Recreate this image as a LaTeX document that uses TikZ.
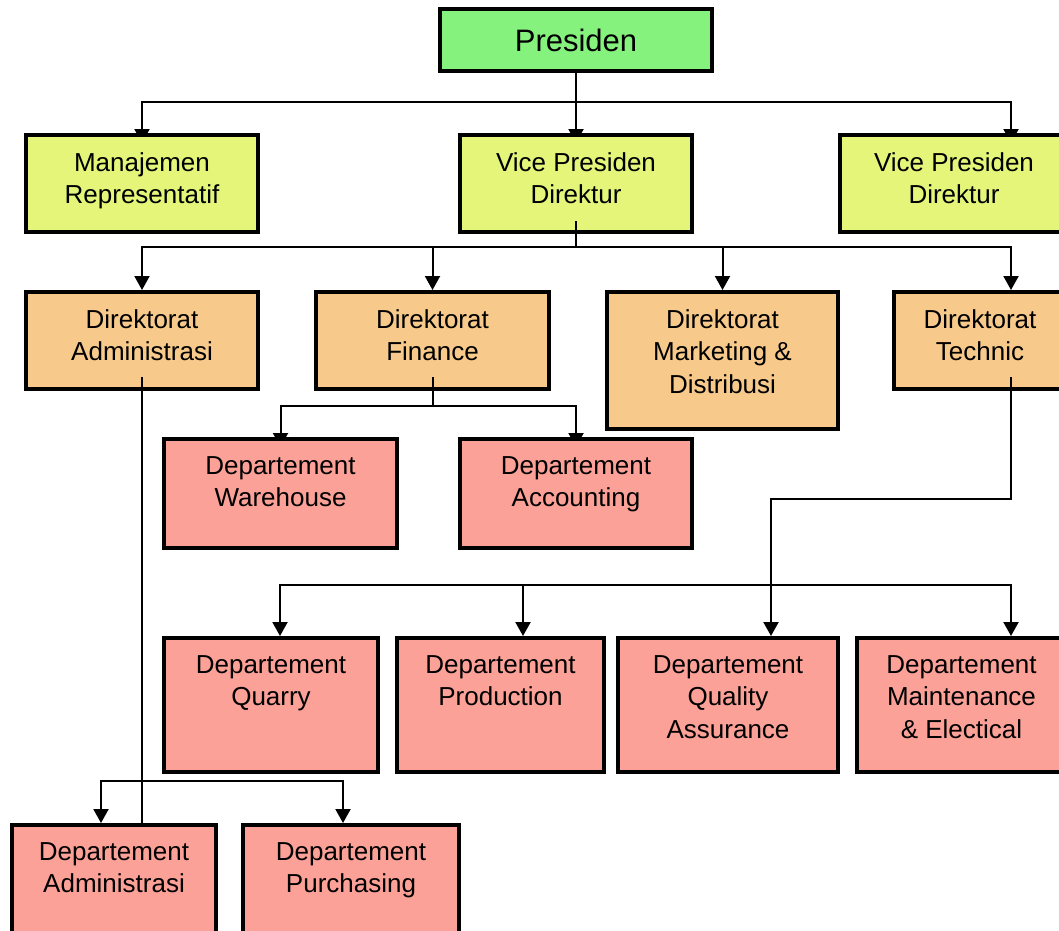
\documentclass[tikz,border=0pt]{standalone}
\usepackage{fontspec}
\setmainfont{Liberation Sans}
\usetikzlibrary{arrows.meta,backgrounds}
\definecolor{cgreen}{RGB}{134,242,126}
\definecolor{cyellow}{RGB}{228,245,122}
\definecolor{corange}{RGB}{247,202,139}
\definecolor{cpink}{RGB}{252,161,151}
\begin{document}
\begin{tikzpicture}[x=1pt,y=-1pt,
  box/.style={draw=black, line width=4pt, inner sep=0pt},
  txt/.style={font=\fontsize{26}{32.5}\selectfont, align=center, inner sep=0pt, anchor=north},
  conn/.style={line width=2pt},
  arr/.style={conn, -{Triangle[width=15pt,length=14pt]}}]
\clip (0,0) rectangle (1059,930);
% boxes
\node[box, fill=cgreen, minimum width=272pt, minimum height=62pt] (pres) at (576,40) {};
\node[font=\fontsize{31}{36}\selectfont, inner sep=0pt] (pres-t) at (pres.center) {Presiden};

\node[box, fill=cyellow, minimum width=232pt, minimum height=97pt] (man) at (142,183.5) {};
\node[box, fill=cyellow, minimum width=232pt, minimum height=97pt] (vp1) at (576,183.5) {};
\node[box, fill=cyellow, minimum width=228pt, minimum height=97pt] (vp2) at (954,183.5) {};
\node[txt] (man-t) at ([yshift=-19pt]man.north) {Manajemen\\Representatif};
\node[txt] (vp1-t) at ([yshift=-19pt]vp1.north) {Vice Presiden\\Direktur};
\node[txt] (vp2-t) at ([yshift=-19pt]vp2.north) {Vice Presiden\\Direktur};

\node[box, fill=corange, minimum width=232pt, minimum height=97pt] (dadm) at (142,340.5) {};
\node[box, fill=corange, minimum width=233pt, minimum height=97pt] (dfin) at (432.5,340.5) {};
\node[box, fill=corange, minimum width=231pt, minimum height=137pt] (dmkt) at (722.5,360.5) {};
\node[box, fill=corange, minimum width=172pt, minimum height=97pt] (dtec) at (980,340.5) {};
\node[txt] (dadm-t) at ([yshift=-19pt]dadm.north) {Direktorat\\Administrasi};
\node[txt] (dfin-t) at ([yshift=-19pt]dfin.north) {Direktorat\\Finance};
\node[txt] (dmkt-t) at ([yshift=-19pt]dmkt.north) {Direktorat\\Marketing \&\\Distribusi};
\node[txt] (dtec-t) at ([yshift=-19pt]dtec.north) {Direktorat\\Technic};

\node[box, fill=cpink, minimum width=233pt, minimum height=109pt] (wh) at (280.5,493.5) {};
\node[box, fill=cpink, minimum width=232pt, minimum height=109pt] (acc) at (576,493.5) {};
\node[txt] (wh-t) at ([yshift=-19pt]wh.north) {Departement\\Warehouse};
\node[txt] (acc-t) at ([yshift=-19pt]acc.north) {Departement\\Accounting};

\node[box, fill=cpink, minimum width=214pt, minimum height=134pt] (qua) at (271,705) {};
\node[box, fill=cpink, minimum width=207pt, minimum height=134pt] (prod) at (500.5,705) {};
\node[box, fill=cpink, minimum width=220pt, minimum height=134pt] (qa) at (728,705) {};
\node[box, fill=cpink, minimum width=209pt, minimum height=134pt] (maint) at (961.5,705) {};
\node[txt] (qua-t) at ([yshift=-19pt]qua.north) {Departement\\Quarry};
\node[txt] (prod-t) at ([yshift=-19pt]prod.north) {Departement\\Production};
\node[txt] (qa-t) at ([yshift=-19pt]qa.north) {Departement\\Quality\\Assurance};
\node[txt] (maint-t) at ([yshift=-19pt]maint.north) {Departement\\Maintenance\\\& Electical};

\node[box, fill=cpink, minimum width=204pt, minimum height=118pt] (dadm2) at (114,884) {};
\node[box, fill=cpink, minimum width=216pt, minimum height=118pt] (pur) at (351,884) {};
\node[txt] (dadm2-t) at ([yshift=-19pt]dadm2.north) {Departement\\Administrasi};
\node[txt] (pur-t) at ([yshift=-19pt]pur.north) {Departement\\Purchasing};

% helper coordinates
\coordinate (r1) at (0,102);
\coordinate (r2) at (0,247);
\coordinate (r3) at (0,406);
\coordinate (r4) at (0,499);
\coordinate (r5) at (0,585);
\coordinate (r6) at (0,781);
\coordinate (e-vp2) at ([xshift=57pt,yshift=-10pt]vp2.north);
\coordinate (e-tec) at ([xshift=31pt]dtec.north);
\coordinate (s-tec) at ([xshift=31pt,yshift=14pt]dtec.south);
\coordinate (b-tec) at ([xshift=31pt]dtec.south);
\coordinate (e-qa) at ([xshift=43pt]qa.north);
\coordinate (e-qua) at ([xshift=9pt]qua.north);
\coordinate (e-prod) at ([xshift=22.5pt]prod.north);
\coordinate (e-mnt) at ([xshift=49.5pt]maint.north);
\coordinate (e-da2) at ([xshift=-13pt]dadm2.north);
\coordinate (e-pur) at ([xshift=-8pt]pur.north);

% connector starts visible inside boxes
\draw[conn] ([yshift=13pt]vp1.south) -- (vp1.south);
\draw[conn] ([yshift=14pt]dfin.south) -- (dfin.south);
\draw[conn] ([yshift=14pt]dadm.south) -- (dadm.south);
\draw[conn] (s-tec) -- (b-tec);

\begin{pgfonlayer}{background}
\fill[white] (0,0) rectangle (1059,930);
\draw[arr] (pres.south) -- ([yshift=-10pt]vp1.north);
\draw[arr] (pres.south |- r1) -| ([yshift=-10pt]man.north);
\draw[arr] (pres.south |- r1) -| (e-vp2);

\draw[conn] (vp1.south) -- (vp1.south |- r2);
\draw[arr] (vp1.south |- r2) -| (dadm.north);
\draw[arr] (vp1.south |- r2) -| (dfin.north);
\draw[arr] (vp1.south |- r2) -| (dmkt.north);
\draw[arr] (vp1.south |- r2) -| (e-tec);

\draw[conn] (dfin.south) -- (dfin.south |- r3);
\draw[arr] (dfin.south |- r3) -| ([yshift=-10pt]wh.north);
\draw[arr] (dfin.south |- r3) -| ([yshift=-10pt]acc.north);

\draw[arr] (b-tec) |- (e-qa |- r4) -- (e-qa);
\coordinate (jt) at (e-qa |- r5);
\draw[arr] (jt) -| (e-qua);
\draw[arr] (jt) -| (e-prod);
\draw[arr] (jt) -| (e-mnt);

\draw[conn] (dadm.south) -- (dadm.south |- dadm2.north);
\coordinate (ja) at (dadm.south |- r6);
\draw[arr] (ja) -| (e-da2);
\draw[arr] (ja) -| (e-pur);
\end{pgfonlayer}
\end{tikzpicture}
\end{document}
